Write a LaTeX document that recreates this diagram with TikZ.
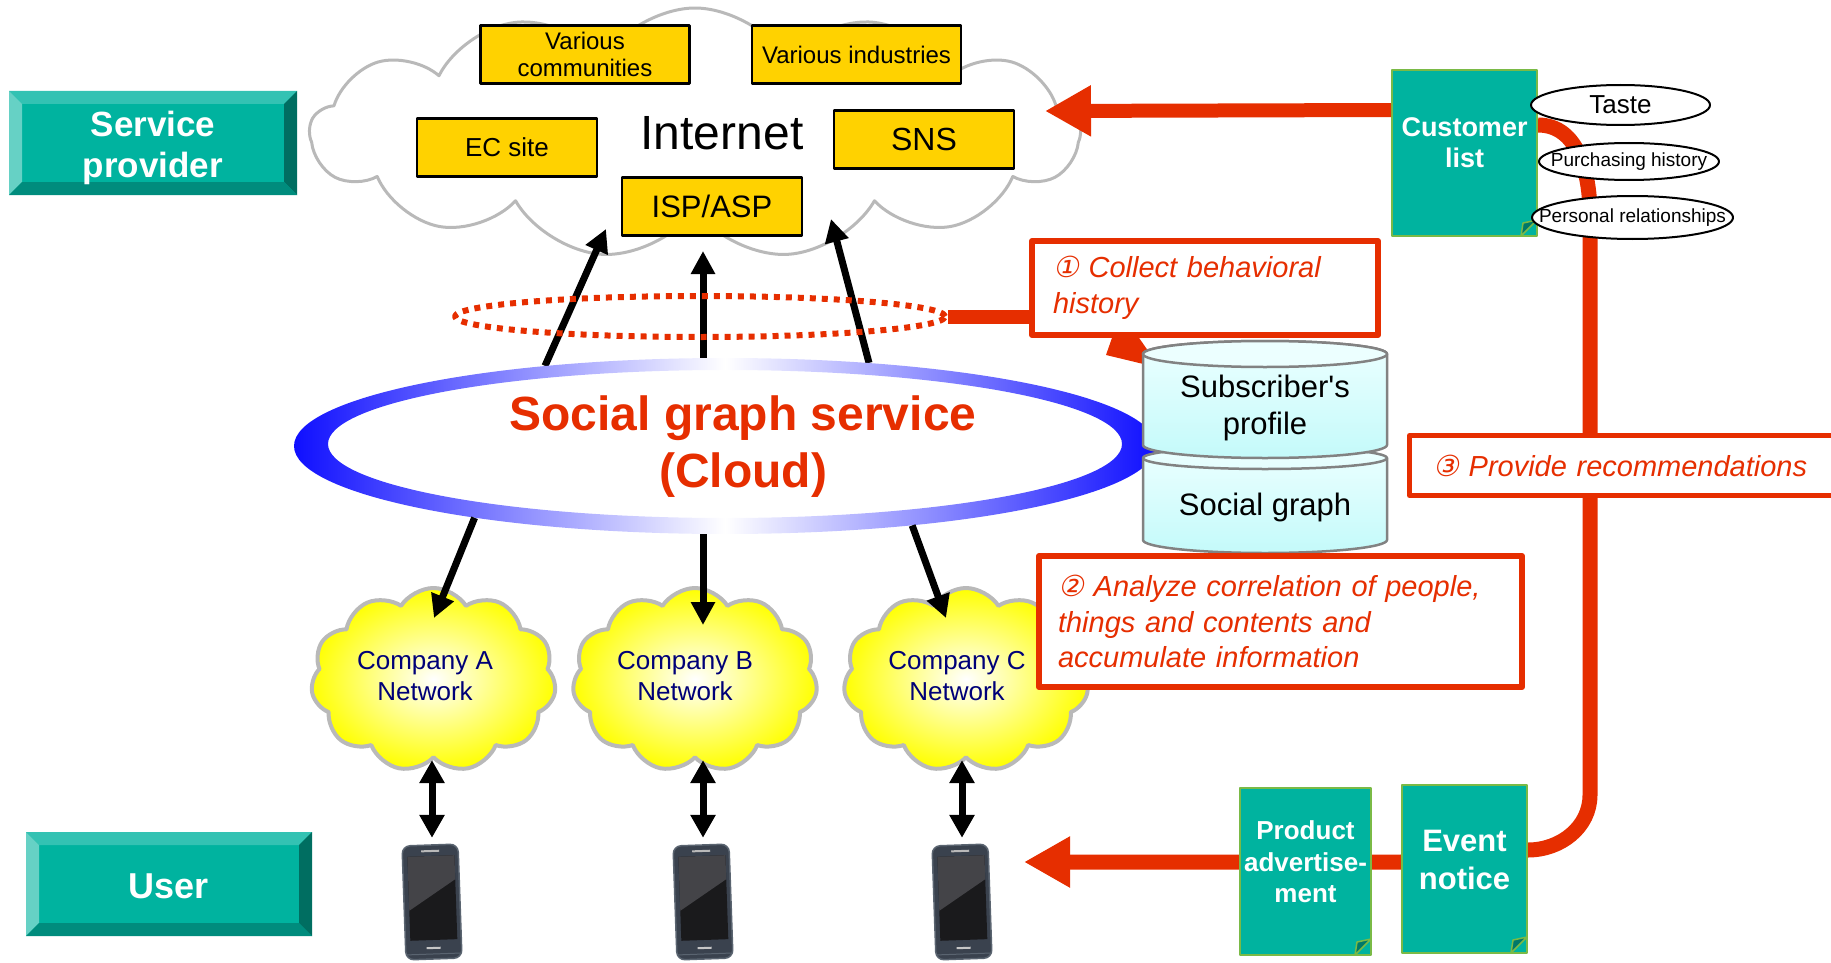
\documentclass[tikz,border=0pt]{standalone}
\usepackage{fontspec}
\setmainfont{Liberation Sans}[Ligatures=TeXOff]
\newfontfamily\circfont[FakeSlant=0.2]{DejaVu Sans}
\usetikzlibrary{shapes.geometric,shapes.symbols,shapes.misc,arrows.meta,calc,positioning}

\definecolor{sgteal}{RGB}{0,179,159}
\definecolor{sgtealtop}{RGB}{51,194,179}
\definecolor{sgtealleft}{RGB}{102,209,197}
\definecolor{sgtealright}{RGB}{0,110,97}
\definecolor{sgtealbot}{RGB}{0,140,125}
\definecolor{sgfold}{RGB}{0,120,105}
\definecolor{docgreen}{RGB}{122,186,70}
\definecolor{boxgold}{RGB}{255,210,0}
\definecolor{sgred}{RGB}{230,46,0}
\definecolor{netnavy}{RGB}{0,0,120}
\definecolor{ringblue}{RGB}{15,15,255}
\definecolor{cloudgray}{RGB}{185,185,185}
\definecolor{cylgray}{RGB}{130,130,130}
\definecolor{cyltop}{RGB}{236,255,255}
\definecolor{cylbot}{RGB}{196,250,250}
\definecolor{phonebody}{RGB}{58,66,78}
\definecolor{phoneedge}{RGB}{90,100,112}
\definecolor{phonescreen}{RGB}{26,26,28}
\definecolor{phonegloss}{RGB}{68,68,72}

\newcommand{\fsz}[2]{\fontsize{#1}{#2}\selectfont}

\pgfdeclarelayer{back}
\pgfsetlayers{back,main}

\tikzset{
  bevelbox/.style={rectangle, fill=sgteal, inner sep=0pt,
    path picture={
      \fill[sgtealtop] (path picture bounding box.north west) -- (path picture bounding box.north east)
        -- ([shift={(-13pt,-13pt)}]path picture bounding box.north east)
        -- ([shift={(13pt,-13pt)}]path picture bounding box.north west) -- cycle;
      \fill[sgtealleft] (path picture bounding box.north west) -- (path picture bounding box.south west)
        -- ([shift={(13pt,13pt)}]path picture bounding box.south west)
        -- ([shift={(13pt,-13pt)}]path picture bounding box.north west) -- cycle;
      \fill[sgtealright] (path picture bounding box.north east) -- (path picture bounding box.south east)
        -- ([shift={(-13pt,13pt)}]path picture bounding box.south east)
        -- ([shift={(-13pt,-13pt)}]path picture bounding box.north east) -- cycle;
      \fill[sgtealbot] (path picture bounding box.south west) -- (path picture bounding box.south east)
        -- ([shift={(-13pt,13pt)}]path picture bounding box.south east)
        -- ([shift={(13pt,13pt)}]path picture bounding box.south west) -- cycle;
    }},
  roletext/.style={align=center, text=white, inner sep=0pt, font=\bfseries\fsz{35}{41}},
  goldbox/.style={rectangle, draw=black, line width=2.5pt, fill=boxgold, inner sep=0pt, align=center},
  inetcloud/.style={cloud, cloud puffs=13, cloud puff arc=115, aspect=3.1, draw=cloudgray,
    line width=3pt, fill=white, inner sep=0pt},
  ycloud/.style={cloud, cloud puffs=11, cloud puff arc=115, aspect=1.3, draw=cloudgray,
    line width=4pt, inner color=white, outer color=yellow, inner sep=0pt},
  nettext/.style={align=center, text=netnavy, font=\fsz{26}{31.5}, inner sep=0pt},
  blkarrow/.style={line width=7pt, -{Triangle[length=23pt,width=23pt]}},
  dblarrow/.style={line width=7pt, {Triangle[length=23pt,width=24pt]}-{Triangle[length=23pt,width=24pt]}},
  redbar/.style={draw=sgred, line width=14pt},
  redarrow/.style={draw=sgred, line width=15pt, -{Triangle[length=46pt,width=48pt]}},
  redbox/.style={rectangle, draw=sgred, line width=6pt, fill=white, inner sep=0pt,
    text=sgred, font=\itshape\fsz{29}{36}, align=left},
  docbox/.style={chamfered rectangle, chamfered rectangle corners=south east,
    chamfered rectangle xsep=16pt, chamfered rectangle ysep=16pt,
    fill=sgteal, draw=docgreen, line width=2pt, inner sep=0pt,
    path picture={
      \filldraw[fill=sgfold, draw=docgreen, line width=1.5pt]
        ([xshift=-16pt]path picture bounding box.south east)
        -- ([shift={(-14pt,13pt)}]path picture bounding box.south east)
        -- ([yshift=16pt]path picture bounding box.south east) -- cycle;
    }},
  doctext/.style={align=center, text=white, inner sep=0pt},
  attr/.style={ellipse, draw=black, line width=2pt, fill=white, inner sep=0pt},
  cyltext/.style={align=center, font=\fsz{31}{37}, inner sep=0pt},
  pics/phone/.style={code={
    \node[minimum width=58, minimum height=116, inner sep=0pt] (-body) at (0,0) {};
    \begin{scope}[rotate=2]
      \filldraw[fill=phonebody, draw=phoneedge, line width=1.5pt, rounded corners=8pt] (-28,-57) rectangle (28,57);
      \fill[phonescreen] (-23,-46) rectangle (24,38);
      \fill[phonegloss] (-23,-46) -- (24,-46) -- (24,-22) -- (-23,8) -- cycle;
      \fill[gray!55] (-9,-52) rectangle (9,-50);
      \fill[gray!45] (-7,45) rectangle (7,47);
      \draw[phoneedge, line width=1pt] (-27,52) -- (27,52);
    \end{scope}
  }}
}

\begin{document}
\begin{tikzpicture}[x=1pt, y=-1pt, line join=round]
\useasboundingbox (0,0) rectangle (1831,963);

% internet cloud and the sites in it
\node[inetcloud, minimum width=770, minimum height=250] (inet) at (695,133) {};
\node[font=\fsz{48}{56}, inner sep=0pt] (inet-txt) at (722,133) {Internet};
\node[goldbox, minimum width=209, minimum height=58, font=\fsz{24}{27}] (communities) at (585,54.5) {Various\\communities};
\node[goldbox, minimum width=209, minimum height=58, font=\fsz{24}{27}] (industries) at (856.5,54.5) {Various industries};
\node[goldbox, minimum width=180, minimum height=58, font=\fsz{26}{30}] (ecsite) at (507,147.5) {EC site};
\node[goldbox, minimum width=180, minimum height=58, font=\fsz{32}{36}] (sns) at (924,139.5) {SNS};
\node[goldbox, minimum width=180, minimum height=58, font=\fsz{31}{36}] (isp) at (712,206.5) {ISP/ASP};

% social graph ring
\node[ellipse, minimum width=862, minimum height=176, inner sep=0pt] (sgs) at (725,446) {};
\coordinate (upL) at (606,229);
\coordinate (upM) at (703,251);
\coordinate (upR) at (831,219);
\draw[blkarrow] (sgs.156) -- (upL);
\draw[blkarrow] (upM |- sgs.north) -- (upM);
\draw[blkarrow] (sgs.30) -- (upR);
\node[ellipse, draw=sgred, line width=6pt, dash pattern=on 6pt off 6pt, minimum width=490, minimum height=41, inner sep=0pt] (dotell) at (700,316.5) {};
\shade[even odd rule, left color=ringblue, right color=ringblue, middle color=white]
  (sgs.center) ellipse [x radius=431, y radius=88] (725,444) ellipse [x radius=397, y radius=74];
\node[font=\bfseries\fsz{48}{57}, text=sgred, align=center, inner sep=0pt] (sgs-txt) at (743,447) {Social graph service\\(Cloud)};

% step 1
\fill[sgred] (1106,355) -- (1160,368) -- (1121,312) -- cycle;
\node[redbox, minimum width=346, minimum height=94, text width=304pt] (collect) at (1205,288)
  {{\circfont ①} Collect behavioral\\history};
\draw[redbar] (dotell.east) -- (dotell.east -| collect.west);

% database
\shadedraw[top color=cyltop, bottom color=cylbot, draw=cylgray, line width=2.5pt]
  (1143,458) -- (1143,540) arc[start angle=180, end angle=0, x radius=122, y radius=13]
  -- (1387,458) arc[start angle=0, end angle=-180, x radius=122, y radius=11] -- cycle;
\draw[cylgray, line width=2.5pt] (1143,458) arc[start angle=180, end angle=0, x radius=122, y radius=11];
\shadedraw[top color=cyltop, bottom color=cylbot, draw=cylgray, line width=2.5pt]
  (1143,354) -- (1143,445) arc[start angle=180, end angle=0, x radius=122, y radius=13]
  -- (1387,354) arc[start angle=0, end angle=-180, x radius=122, y radius=13] -- cycle;
\filldraw[fill=cyltop, draw=cylgray, line width=2.5pt] (1265,354) ellipse [x radius=122, y radius=13];
\node[cyltext] (profile) at (1265,408) {Subscriber's\\profile};
\node[cyltext] (socgraph) at (1265,507) {Social graph};

% customer list, attributes and step 3
\node[docbox, minimum width=145, minimum height=166] (custlist) at (1464.5,153) {};
\node[doctext, font=\bfseries\fsz{27}{31}] (custlist-txt) at (1464.5,143) {Customer\\list};
\coordinate (inetR) at (1045,111);
\draw[redarrow, line width=14pt] ([yshift=43pt]custlist.west) -- (inetR);
\node[attr, minimum width=179, minimum height=40, font=\fsz{26}{30}] (taste) at (1620.5,105) {\makebox[0pt]{Taste}};
\node[attr, minimum width=180, minimum height=37, font=\fsz{19}{22}] (purch) at (1629,161.5) {\makebox[0pt]{Purchasing history}};
\node[attr, minimum width=201, minimum height=43, font=\fsz{19}{22}] (personal) at (1632.5,217.5) {\makebox[0pt]{Personal relationships}};
\node[redbox, line width=5pt, minimum width=451, minimum height=60, text width=404pt] (provide) at (1635,465.5)
  {{\circfont ③} Provide recommendations};
\node[docbox, minimum width=131, minimum height=167] (prodad) at (1305.5,871.5) {};
\node[doctext, font=\bfseries\fsz{26}{31.5}] (prodad-txt) at (1305.5,862) {Product\\advertise-\\ment};
\node[docbox, minimum width=125, minimum height=168] (event) at (1464.5,869) {};
\node[doctext, font=\bfseries\fsz{31}{38}] (event-txt) at (1464.5,860) {Event\\notice};

% company networks
\node[ycloud, minimum width=245, minimum height=184] (cloudA) at (433.5,680) {};
\node[ycloud, minimum width=245, minimum height=184] (cloudB) at (695,680) {};
\node[ycloud, minimum width=245, minimum height=184] (cloudC) at (966,680) {};
\node[nettext] (cloudA-txt) at (425,676) {Company A\\Network};
\node[nettext] (cloudB-txt) at (685,676) {Company B\\Network};
\node[nettext] (cloudC-txt) at (957,676) {Company C\\Network};
\coordinate (dnA) at (434,618);
\coordinate (dnB) at (703,625);
\coordinate (dnC) at (946,618);
\draw[blkarrow] (sgs.196) -- (dnA);
\draw[blkarrow] (dnB |- sgs.south) -- (dnB);
\draw[blkarrow] (sgs.337) -- (dnC);

% step 2
\node[redbox, minimum width=483, minimum height=131, text width=445pt, font=\itshape\fsz{29}{35.5}] (analyze) at (1280.5,621.5)
  {{\circfont ②} Analyze correlation of people,\\things and contents and\\accumulate information};

% handsets
\pic (phA) at (432,902) {phone};
\pic (phB) at (703,902) {phone};
\pic (phC) at (962,902) {phone};
\draw[dblarrow] (phA-body.north |- cloudA.south) -- ([yshift=6pt]phA-body.north);
\draw[dblarrow] (phB-body.north |- cloudB.south) -- ([yshift=6pt]phB-body.north);
\draw[dblarrow] (phC-body.north |- cloudC.south) -- ([yshift=6pt]phC-body.north);
\coordinate (phoneR) at (1024,862);

% recommendation route, kept behind the boxes it passes
\begin{pgfonlayer}{back}
\draw[redarrow] ([yshift=28pt]custlist.east) to[out=0, in=90] (1590,215) -- (1590,795)
  to[out=-90, in=0] ([yshift=19pt]event.east) -- ([yshift=7pt]event.west) -- (phoneR);
\end{pgfonlayer}

% roles
\node[bevelbox, minimum width=288, minimum height=104] (provider) at (153,143) {};
\node[roletext] (provider-txt) at (153,148) {Service\\provider};
\node[bevelbox, minimum width=286, minimum height=104] (user) at (169,884) {};
\node[roletext, font=\bfseries\fsz{36}{40}] (user-txt) at (169,886) {User};
\end{tikzpicture}
\end{document}
